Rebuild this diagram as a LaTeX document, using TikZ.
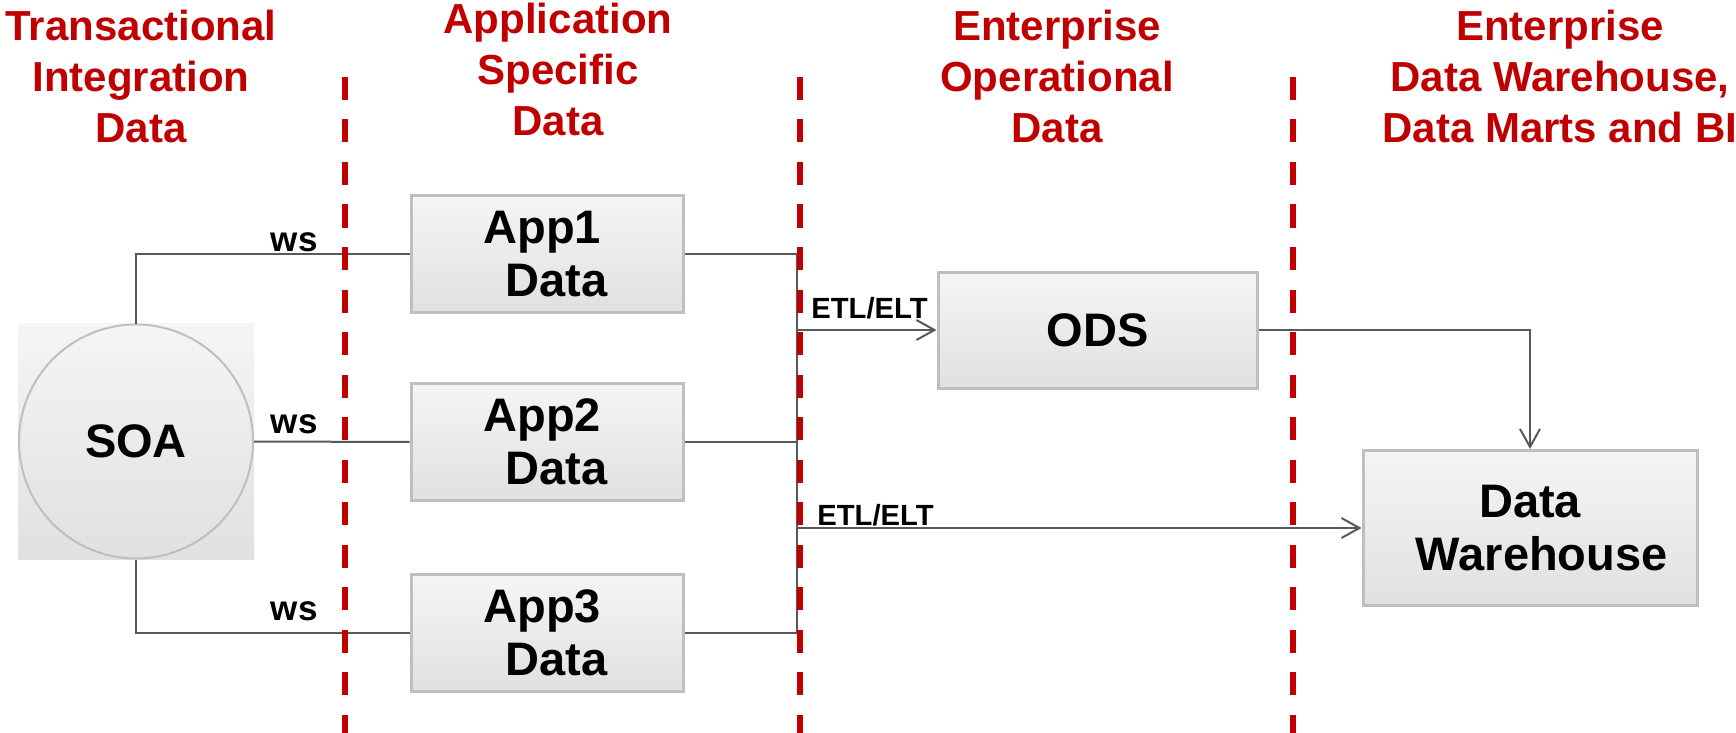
\documentclass[tikz,border=0pt]{standalone}
\usepackage{fontspec}
\setmainfont{Liberation Sans}
\usetikzlibrary{arrows.meta}
\definecolor{hdred}{HTML}{C00000}
\definecolor{linegray}{HTML}{595959}
\definecolor{rim}{HTML}{BFBFBF}
\begin{document}
\begin{tikzpicture}[>={Straight Barb[length=9pt,width=10pt]},x=0.5pt,y=-0.5pt,
	head/.style={text=hdred,font=\bfseries\fontsize{21}{25.5}\selectfont,align=center,anchor=north,inner sep=0pt},
	store/.style={draw=rim,line width=1.5pt,top color=black!4,bottom color=black!12,font=\bfseries\fontsize{23.5}{26.5}\selectfont,align=center,inner sep=0pt},
	wslabel/.style={font=\bfseries\fontsize{17.5}{20}\selectfont,inner sep=0pt,anchor=base east},
	tag/.style={font=\bfseries\fontsize{14.6}{17}\selectfont,inner sep=0pt,anchor=base west},
	wire/.style={draw=linegray,line width=1pt},
	zone/.style={draw=hdred,line width=3pt,dash pattern=on 11.5pt off 9.75pt}]
	\useasboundingbox (0,0) rectangle (1736,733);
	% column headings
	\node[head] (tid) at (141,9.5) {Transactional\\Integration\\Data};
	\node[head] (asd) at (558,2.5) {Application\\Specific\\Data};
	\node[head] (eod) at (1057,9.5) {Enterprise\\Operational\\Data};
	\node[head] (edw) at (1560,9.5) {Enterprise\\Data Warehouse,\\Data Marts and BI};
	% soa
	\node[minimum size=118pt,inner sep=0pt,top color=black!4,bottom color=black!12] (soabg) at (136,441.5) {};
	\node[circle,draw=rim,line width=1pt,minimum size=117pt,inner sep=0pt,top color=black!4,bottom color=black!12,font=\bfseries\fontsize{23.5}{26.5}\selectfont] (soa) at (136,441.5) {SOA};
	% stores
	\node[store,minimum width=136pt,minimum height=58.5pt] (app1) at (547,254) {App1\kern.2em\\\kern.4em Data};
	\node[store,minimum width=136pt,minimum height=58.5pt] (app2) at (547,442) {App2\kern.2em\\\kern.4em Data};
	\node[store,minimum width=136pt,minimum height=58.5pt] (app3) at (547,633) {App3\kern.2em\\\kern.4em Data};
	\node[store,minimum width=159.5pt,minimum height=58pt] (ods) at (1097.5,330) {ODS};
	\node[store,minimum width=167pt,minimum height=77.5pt] (dw) at (1530,528) {Data\\\kern.5em Warehouse};
	\coordinate (bus) at (797,0);
	% links
	\draw[wire] (soa.north) |- (app1.west);
	\draw[wire] (soa.east) -- (app2.west);
	\draw[wire] (soa.south) |- (app3.west);
	\draw[wire] (app1.east) -| (bus |- app3.east) -- (app3.east);
	\draw[wire] (app2.east) -- (app2.east -| bus);
	\draw[wire,->] (bus |- ods.west) -- (ods.west);
	\draw[wire,->] (bus |- dw.west) -- (dw.west);
	\draw[wire,->] (ods.east) -| (dw.north);
	\node[wslabel] (ws1) at (318,251) {ws};
	\node[wslabel] (ws2) at (318,433) {ws};
	\node[wslabel] (ws3) at (318,620) {ws};
	\node[tag] (etl1) at (811,318) {ETL/ELT};
	\node[tag] (etl2) at (817,525) {ETL/ELT};
	% zone borders
	\foreach \x in {345,800,1293} \draw[zone] (\x,77) -- (\x,745);
\end{tikzpicture}
\end{document}
